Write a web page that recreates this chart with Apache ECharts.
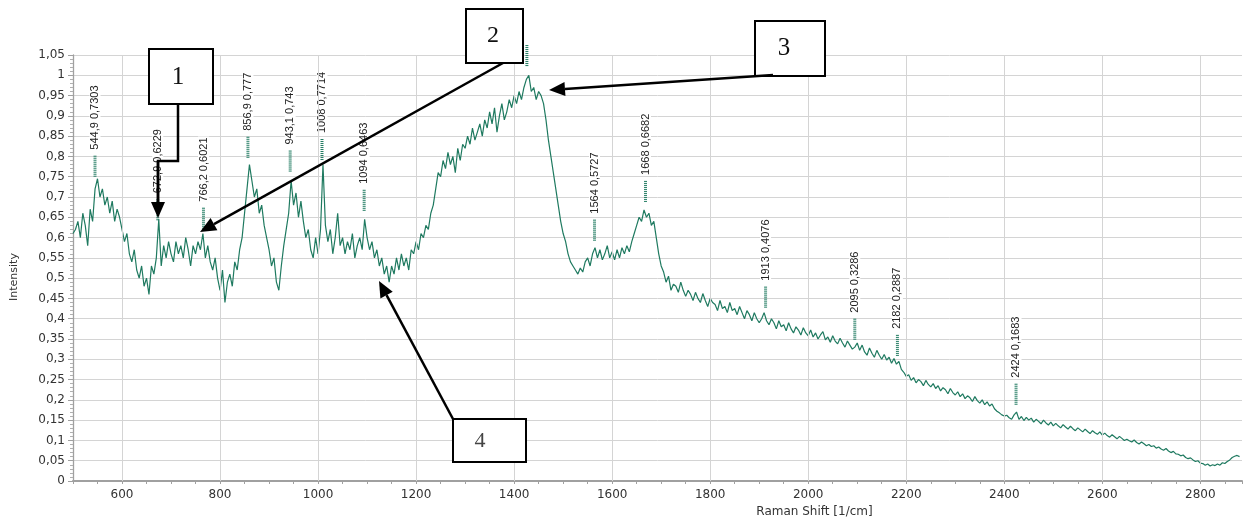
<!DOCTYPE html>
<html><head><meta charset="utf-8">
<script src="https://cdn.jsdelivr.net/npm/echarts@6/dist/echarts.min.js"></script>
<style>html,body{margin:0;padding:0;background:#fff}#c{width:1254px;height:517px}</style>
</head><body><div id="c"></div>
<script>
// Raman spectrum sampled every 5 cm-1 from 500 cm-1
const specStart = 500;
const specStep = 5;
const specValues = [
  0.61, 0.62, 0.64, 0.60, 0.66, 0.63, 0.58, 0.67, 0.64, 0.72,
  0.745, 0.70, 0.72, 0.68, 0.70, 0.66, 0.69, 0.64, 0.67, 0.65,
  0.62, 0.59, 0.61, 0.56, 0.54, 0.57, 0.52, 0.50, 0.53, 0.48,
  0.50, 0.46, 0.53, 0.51, 0.55, 0.645, 0.53, 0.58, 0.55, 0.59,
  0.56, 0.54, 0.59, 0.56, 0.58, 0.55, 0.60, 0.57, 0.53, 0.58,
  0.56, 0.59, 0.57, 0.61, 0.55, 0.58, 0.54, 0.52, 0.55, 0.50,
  0.47, 0.52, 0.44, 0.49, 0.51, 0.48, 0.54, 0.52, 0.57, 0.60,
  0.66, 0.72, 0.78, 0.74, 0.70, 0.72, 0.66, 0.68, 0.63, 0.60,
  0.57, 0.53, 0.55, 0.49, 0.47, 0.53, 0.58, 0.62, 0.66, 0.74,
  0.68, 0.71, 0.65, 0.69, 0.64, 0.60, 0.62, 0.57, 0.55, 0.60,
  0.56, 0.62, 0.78, 0.63, 0.59, 0.62, 0.56, 0.60, 0.66, 0.58,
  0.60, 0.56, 0.59, 0.57, 0.61, 0.55, 0.58, 0.60, 0.57, 0.645,
  0.60, 0.57, 0.59, 0.55, 0.57, 0.53, 0.55, 0.51, 0.53, 0.49,
  0.53, 0.51, 0.55, 0.52, 0.56, 0.53, 0.55, 0.52, 0.57, 0.56,
  0.59, 0.57, 0.61, 0.60, 0.63, 0.62, 0.66, 0.68, 0.72, 0.76,
  0.75, 0.79, 0.77, 0.81, 0.78, 0.80, 0.76, 0.82, 0.79, 0.83,
  0.82, 0.85, 0.83, 0.87, 0.84, 0.86, 0.88, 0.85, 0.89, 0.87,
  0.91, 0.88, 0.92, 0.86, 0.90, 0.93, 0.89, 0.91, 0.94, 0.92,
  0.95, 0.93, 0.96, 0.94, 0.97, 0.99, 1.00, 0.96, 0.97, 0.94,
  0.96, 0.95, 0.93, 0.89, 0.84, 0.80, 0.76, 0.72, 0.68, 0.64,
  0.61, 0.59, 0.56, 0.54, 0.53, 0.52, 0.51, 0.525, 0.515, 0.54,
  0.55, 0.53, 0.56, 0.575, 0.55, 0.57, 0.545, 0.56, 0.58, 0.55,
  0.565, 0.545, 0.57, 0.55, 0.575, 0.56, 0.58, 0.565, 0.59, 0.61,
  0.63, 0.65, 0.64, 0.668, 0.65, 0.66, 0.63, 0.64, 0.60, 0.56,
  0.53,
  0.515, 0.49, 0.505, 0.47, 0.485, 0.48, 0.465, 0.49, 0.47, 0.455,
  0.47, 0.46, 0.445, 0.465, 0.45, 0.44, 0.462, 0.445, 0.43, 0.45,
  0.44, 0.435, 0.42, 0.445, 0.425, 0.43, 0.415, 0.44, 0.42, 0.425,
  0.41, 0.43, 0.415, 0.40, 0.42, 0.41, 0.395, 0.415, 0.40, 0.39,
  0.40, 0.415, 0.395, 0.385, 0.40, 0.39, 0.375, 0.395, 0.38, 0.385,
  0.37, 0.39, 0.375, 0.365, 0.38, 0.372, 0.36, 0.378, 0.365, 0.358,
  0.372, 0.355, 0.365, 0.35, 0.36, 0.368, 0.348, 0.355, 0.342, 0.358,
  0.345, 0.338, 0.352, 0.34, 0.33, 0.345, 0.335, 0.325, 0.33, 0.34,
  0.322, 0.335, 0.318, 0.31, 0.328, 0.315, 0.305, 0.322, 0.31, 0.30,
  0.312, 0.298, 0.305, 0.29, 0.302, 0.288, 0.295, 0.275, 0.268, 0.258,
  0.262, 0.248, 0.255, 0.242, 0.25, 0.245, 0.235, 0.248, 0.238, 0.232,
  0.24, 0.228, 0.235, 0.222, 0.23, 0.225, 0.215, 0.228, 0.218, 0.212,
  0.22, 0.208, 0.215, 0.203, 0.21, 0.205, 0.196, 0.208, 0.198, 0.192,
  0.2, 0.188, 0.195, 0.185, 0.19, 0.178, 0.172, 0.168, 0.163, 0.16,
  0.162, 0.156, 0.152, 0.163, 0.17, 0.152, 0.159, 0.149, 0.157, 0.15,
  0.155, 0.145, 0.152, 0.147, 0.141, 0.15, 0.143, 0.138, 0.145, 0.136,
  0.142, 0.136, 0.131, 0.139, 0.133, 0.128, 0.135, 0.129, 0.124, 0.131,
  0.126, 0.121, 0.128, 0.122, 0.117, 0.124, 0.119, 0.115, 0.121, 0.113,
  0.118, 0.112, 0.108, 0.114, 0.109, 0.104, 0.11, 0.105, 0.1, 0.103,
  0.099, 0.096, 0.101, 0.095, 0.091, 0.096, 0.092, 0.087, 0.09, 0.085,
  0.087, 0.081, 0.084, 0.079, 0.076, 0.08, 0.074, 0.07, 0.073, 0.067,
  0.066, 0.062, 0.064, 0.058, 0.055, 0.057, 0.052, 0.048, 0.05, 0.044,
  0.043, 0.039, 0.042, 0.037, 0.04, 0.038, 0.042, 0.039, 0.045, 0.043,
  0.048, 0.052, 0.058, 0.061, 0.063, 0.06
];

// Axis ticks
const xGridValues = [600, 800, 1000, 1200, 1400, 1600, 1800, 2000, 2200, 2400, 2600, 2800];
const xMin = 500, xMax = 2885;
const yMin = 0, yMax = 1.05, yStep = 0.05;

// Peak annotations
const peakX = [544.9, 672.9, 766.2, 856.9, 943.1, 1008, 1094, 1426, 1564, 1668, 1913, 2095, 2182, 2424];
const peakY = [0.7303, 0.6229, 0.6021, 0.777, 0.743, 0.7714, 0.6463, 1.003, 0.5727, 0.6682, 0.4076, 0.3286, 0.2887, 0.1683];
const peakText = ['544,9 0,7303', '672,9 0,6229', '766,2 0,6021', '856,9 0,777', '943,1 0,743', '1008 0,7714',
  '1094 0,6463', '', '1564 0,5727', '1668 0,6682', '1913 0,4076', '2095 0,3286', '2182 0,2887', '2424 0,1683'];

const lineColor = '#1f7a60';
const spectrum = specValues.map((v, i) => [specStart + i * specStep, v]);

function arrowHead(x1, y1, x2, y2) {
  const dx = x2 - x1, dy = y2 - y1, L = Math.hypot(dx, dy), ux = dx / L, uy = dy / L;
  const hl = 16, hw = 7;
  const bx = x2 - ux * hl, by = y2 - uy * hl;
  return [
    { type: 'line', z: 100, shape: { x1: x1, y1: y1, x2: bx, y2: by }, style: { stroke: '#000', lineWidth: 2.5 } },
    { type: 'polygon', z: 100, shape: { points: [[x2, y2], [bx - uy * hw, by + ux * hw], [bx + uy * hw, by - ux * hw]] }, style: { fill: '#000' } }
  ];
}
function box(x, y, w, h, label, tx, ty, size, color) {
  return [
    { type: 'rect', z: 100, shape: { x: x, y: y, width: w, height: h }, style: { fill: '#fff', stroke: '#000', lineWidth: 2 } },
    { type: 'text', z: 101, x: tx, y: ty, style: { text: label, font: size + 'px "Liberation Serif"', fill: color, align: 'center', verticalAlign: 'middle' } }
  ];
}

const graphics = [].concat(
  box(149, 49, 64, 55, '1', 178, 77, 25, '#111'),
  [{ type: 'polyline', z: 100, shape: { points: [[178, 104], [178, 161], [158, 161], [158, 203]] }, style: { stroke: '#000', lineWidth: 2.5, fill: null } }],
  arrowHead(158, 161, 158, 218),
  box(466, 9, 57, 54, '2', 493, 36, 24, '#111'),
  arrowHead(503, 63, 200, 232),
  box(755, 21, 70, 55, '3', 784, 48, 25, '#111'),
  arrowHead(773, 75, 549, 90),
  box(453, 419, 73, 43, '4', 480, 441, 22, '#444'),
  arrowHead(453, 419, 379, 281)
);

const chart = echarts.init(document.getElementById('c'), null, { renderer: 'canvas' });
chart.setOption({
  animation: false,
  backgroundColor: '#fff',
  grid: { left: 73, right: 12, top: 55, bottom: 36, containLabel: false, outerBoundsMode: 'none' },
  xAxis: {
    type: 'value', min: xMin, max: xMax, interval: 50,
    name: 'Raman Shift [1/cm]', nameLocation: 'middle', nameGap: 17,
    nameTextStyle: { fontFamily: 'DejaVu Sans', fontSize: 12, color: '#333', padding: [0, 0, 0, 314] },
    axisLine: { show: true, lineStyle: { color: '#a0a0a0', width: 2 } },
    axisTick: { show: true, length: 3, lineStyle: { color: '#a0a0a0' } },
    axisLabel: { interval: 0, margin: 8, fontFamily: 'DejaVu Sans', fontSize: 12, color: '#333',
      formatter: v => (xGridValues.indexOf(v) >= 0 ? String(v) : '') },
    splitLine: { show: false }
  },
  yAxis: {
    type: 'value', min: yMin, max: yMax, interval: yStep,
    name: 'Intensity', nameLocation: 'middle', nameGap: 53,
    nameTextStyle: { fontFamily: 'DejaVu Sans', fontSize: 11, color: '#333', padding: [0, 18, 0, 0] },
    axisLine: { show: true, lineStyle: { color: '#a0a0a0', width: 1.3 } },
    axisTick: { show: true, length: 5, lineStyle: { color: '#a0a0a0' } },
    minorTick: { show: true, splitNumber: 5, length: 3, lineStyle: { color: '#b0b0b0' } },
    axisLabel: { margin: 8, fontFamily: 'DejaVu Sans', fontSize: 12, color: '#333',
      formatter: v => String(+v.toFixed(2)).replace('.', ',') },
    splitLine: { show: true, lineStyle: { color: '#d4d4d4', width: 1 } }
  },
  series: [
    {
      type: 'line', name: 'grid', data: [], z: 1, silent: true,
      markLine: {
        silent: true, symbol: 'none', animation: false,
        label: { show: false },
        lineStyle: { color: '#d4d4d4', width: 1, type: 'solid' },
        emphasis: { disabled: true },
        data: xGridValues.map(v => ({ xAxis: v }))
      }
    },
    {
      type: 'line', name: 'spectrum', data: spectrum, z: 3, showSymbol: false, symbol: 'none',
      sampling: null, silent: true,
      lineStyle: { color: lineColor, width: 1.2 }
    },
    {
      type: 'custom', name: 'peaks', z: 4, silent: true, clip: false,
      data: peakX.map((x, i) => [x, peakY[i], i]),
      renderItem: function (params, api) {
        const p = api.coord([api.value(0), api.value(1)]);
        const idx = api.value(2);
        const children = [{
          type: 'line', shape: { x1: p[0], y1: p[1] - 8, x2: p[0], y2: p[1] - 29 },
          style: { stroke: lineColor, lineWidth: 3, lineDash: [1, 1] }
        }];
        if (peakText[idx]) {
          children.push({
            type: 'text', x: p[0], y: p[1] - 34, rotation: Math.PI / 2,
            style: { text: peakText[idx], font: '11px "Liberation Sans"', fill: '#222',
              align: 'left', verticalAlign: 'middle', backgroundColor: '#fff', padding: [0, 1] }
          });
        }
        return { type: 'group', children: children };
      }
    }
  ],
  graphic: graphics
});
</script>
</body></html>
